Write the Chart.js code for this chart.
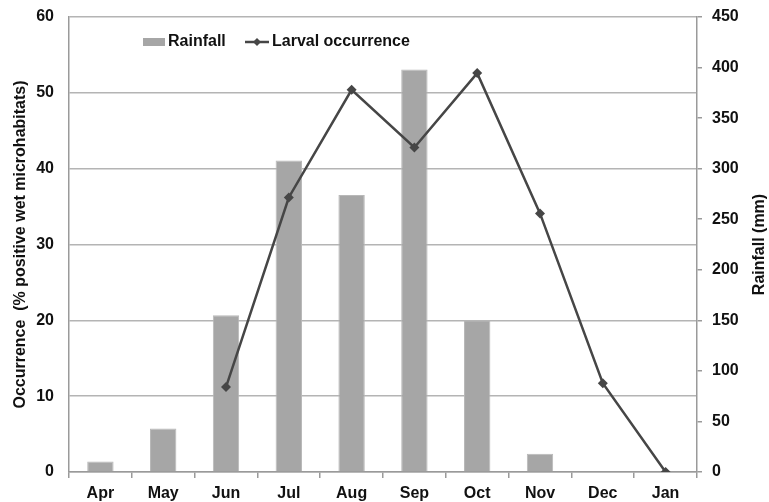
<!DOCTYPE html>
<html>
<head>
<meta charset="utf-8">
<script src="https://cdn.jsdelivr.net/npm/chart.js@4/dist/chart.umd.min.js"></script>
<style>
    body { margin: 0; background: #fff; }
    #wrap { width: 769px; height: 502px; position: relative; }
</style>
</head>
<body>
<div id="wrap"><canvas id="chart"></canvas></div>
<script>
// Months on the x axis
const months = ['Apr', 'May', 'Jun', 'Jul', 'Aug', 'Sep', 'Oct', 'Nov', 'Dec', 'Jan'];
// Rainfall (mm), right axis
const rainfall = [10.5, 43, 155, 308, 274, 398, 150, 18, 0, 0];
// Larval occurrence (% positive wet microhabitats), left axis
const occurrence = [null, null, 11.2, 36.2, 50.4, 42.8, 52.6, 34.1, 11.7, 0];

const barColor = '#a6a6a6';
const lineColor = '#464646';
const axisColor = '#9a9a9a';
const gridColor = '#b4b4b4';
const fontStr = 'bold 16px "Liberation Sans", Arial, sans-serif';
const font = { family: "'Liberation Sans', Arial, sans-serif", size: 16, weight: 'bold' };

// Legend drawn inside the plot area, near the top left
const innerLegend = {
    id: 'innerLegend',
    afterDraw(chart) {
        let ctx = chart.ctx;
        let area = chart.chartArea;
        let x = area.left + 74;
        let y = area.top + 25;
        ctx.save();
        ctx.font = fontStr;
        ctx.textBaseline = 'middle';
        ctx.fillStyle = barColor;
        ctx.fillRect(x, y - 4, 22, 8);
        ctx.fillStyle = '#111';
        ctx.fillText('Rainfall', x + 25, y);
        let lx = x + 102;
        ctx.strokeStyle = lineColor;
        ctx.lineWidth = 2.5;
        ctx.beginPath();
        ctx.moveTo(lx, y);
        ctx.lineTo(lx + 24, y);
        ctx.stroke();
        ctx.fillStyle = lineColor;
        ctx.beginPath();
        ctx.moveTo(lx + 12, y - 4);
        ctx.lineTo(lx + 16, y);
        ctx.lineTo(lx + 12, y + 4);
        ctx.lineTo(lx + 8, y);
        ctx.closePath();
        ctx.fill();
        ctx.fillStyle = '#111';
        ctx.fillText('Larval occurrence', lx + 27, y);
        ctx.restore();
    }
};

// Right axis title reads bottom-to-top like the left one
const rightTitle = {
    id: 'rightTitle',
    afterDraw(chart) {
        let ctx = chart.ctx;
        let area = chart.chartArea;
        ctx.save();
        ctx.font = fontStr;
        ctx.fillStyle = '#111';
        ctx.textAlign = 'center';
        ctx.textBaseline = 'middle';
        ctx.translate(chart.width - 9, (area.top + area.bottom) / 2);
        ctx.rotate(-Math.PI / 2);
        ctx.fillText('Rainfall (mm)', 0, 0);
        ctx.restore();
    }
};

let ctx = document.getElementById('chart').getContext('2d');

new Chart(ctx, {
    data: {
        labels: months,
        datasets: [{
            type: 'line',
            label: 'Larval occurrence',
            data: occurrence,
            yAxisID: 'y',
            borderColor: lineColor,
            backgroundColor: lineColor,
            borderWidth: 2.5,
            pointStyle: 'rectRot',
            pointRadius: 5,
            pointBorderWidth: 0,
            spanGaps: false,
            order: 0
        }, {
            type: 'bar',
            label: 'Rainfall',
            data: rainfall,
            yAxisID: 'y1',
            backgroundColor: barColor,
            borderColor: '#b8b8b8',
            borderWidth: 1,
            categoryPercentage: 1,
            barPercentage: 0.42,
            order: 1
        }]
    },
    options: {
        responsive: true,
        maintainAspectRatio: false,
        animation: false,
        layout: { padding: { top: 17, right: 0, bottom: 0, left: 0 } },
        plugins: {
            legend: { display: false },
            tooltip: { enabled: false }
        },
        scales: {
            x: {
                offset: true,
                afterFit: (scale) => { scale.height = 30; },
                grid: {
                    offset: true,
                    drawOnChartArea: false,
                    drawTicks: true,
                    tickLength: 6,
                    color: axisColor,
                    lineWidth: 1.5
                },
                border: { color: axisColor, width: 1.5 },
                ticks: { color: '#111', font: font, padding: 6 }
            },
            y: {
                position: 'left',
                min: 0,
                max: 60,
                afterFit: (scale) => {
                    scale.width = 69;
                    scale.paddingTop = 8;
                    scale.paddingBottom = 8;
                },
                ticks: { stepSize: 10, color: '#111', font: font, padding: 15 },
                grid: { color: gridColor, lineWidth: 1.5, drawTicks: false },
                border: { color: axisColor, width: 1.5 },
                title: {
                    display: true,
                    text: 'Occurrence  (% positive wet microhabitats)',
                    color: '#111',
                    font: font,
                    padding: { top: 11, bottom: 0 }
                }
            },
            y1: {
                position: 'right',
                min: 0,
                max: 450,
                afterFit: (scale) => {
                    scale.width = 72;
                    scale.paddingTop = 8;
                    scale.paddingBottom = 8;
                },
                ticks: { stepSize: 50, color: '#111', font: font, padding: 10 },
                grid: {
                    drawOnChartArea: false,
                    drawTicks: true,
                    tickLength: 5,
                    color: axisColor,
                    lineWidth: 1.5
                },
                border: { color: axisColor, width: 1.5 }
            }
        }
    },
    plugins: [innerLegend, rightTitle]
});
</script>
</body>
</html>
